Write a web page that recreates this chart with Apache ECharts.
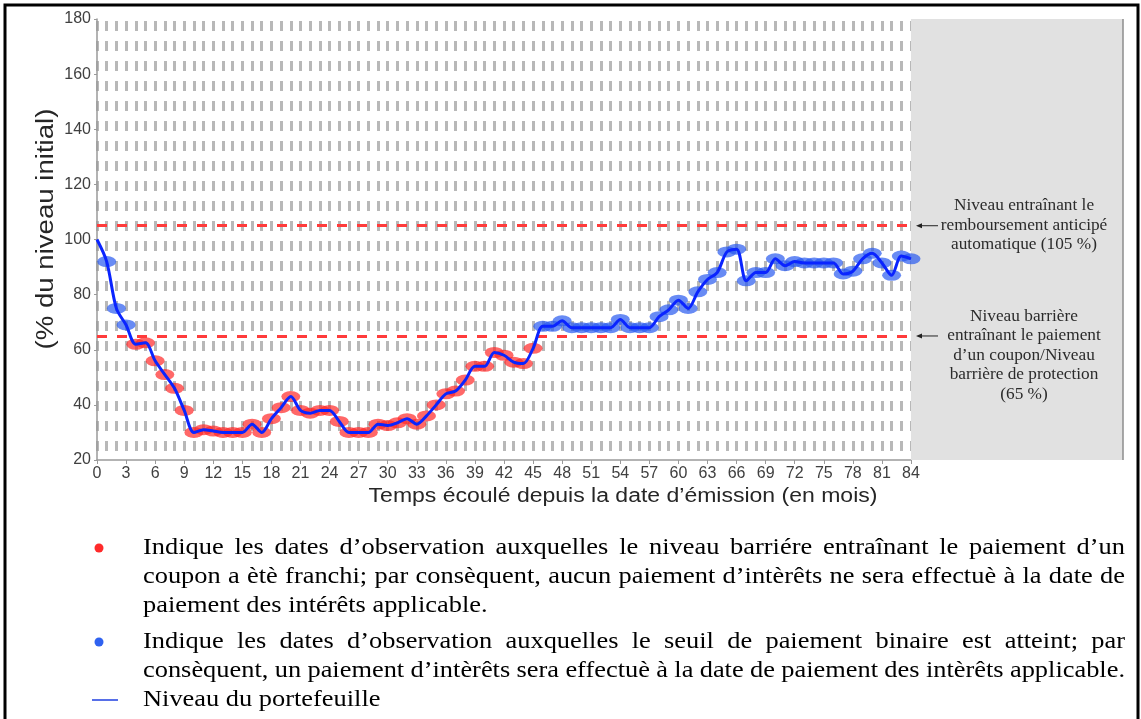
<!DOCTYPE html>
<html>
<head>
<meta charset="utf-8">
<script src="https://cdn.jsdelivr.net/npm/echarts@6/dist/echarts.min.js"></script>
<style>
    html, body { margin: 0; padding: 0; background: #fff; }
    #chart { width: 1141px; height: 719px; }
</style>
</head>
<body>
<div id="chart"></div>
<script>
(function () {

    /* ===== données ===== */
    var months = [];
    for (var m = 0; m <= 84; m++) { months.push(String(m)); }

    // niveau du portefeuille (% du niveau initial), un point par mois
    var level = [
        100, 92, 75, 69, 62, 62.5, 56, 51, 46, 38,
        30, 31, 30.5, 30, 30, 30, 33, 30, 35, 39,
        43, 38, 37, 38, 38, 34, 30, 30, 30, 33,
        32.5, 33.5, 35, 33, 36, 40, 44, 45, 49, 54,
        54, 59, 58, 55.5, 55, 60.5, 68.5, 68.5, 70.5, 68,
        68, 68, 68, 68, 71, 68, 68, 68, 72, 74.5,
        78, 75, 81, 85.5, 88, 95.5, 96.5, 85, 88, 88,
        93, 90.5, 92, 91.5, 91.5, 91.5, 91.5, 87.5, 88.5, 93,
        95, 91.5, 87, 94, 93
    ];

    var autocallLevel = 105;
    var barrierLevel = 65;
    var yMin = 20, yMax = 180, yStep = 20;

    var noteAutocall = ['Niveau entraînant le', 'remboursement anticipé', 'automatique (105 %)'];
    var noteBarrier = ['Niveau barrière', 'entraînant le paiement', 'd\u2019un coupon/Niveau', 'barrière de protection', '(65 %)'];

    var legendRed = [
        'Indique les dates d\u2019observation auxquelles le niveau barriére entraînant le paiement d\u2019un',
        'coupon a ètè franchi; par consèquent, aucun paiement d\u2019intèrêts ne sera effectuè à la date de',
        'paiement des intérêts applicable.'
    ];
    var legendBlue = [
        'Indique les dates d\u2019observation auxquelles le seuil de paiement binaire est atteint; par',
        'consèquent, un paiement d\u2019intèrêts sera effectuè à la date de paiement des intèrêts applicable.'
    ];
    var legendLine = 'Niveau du portefeuille';

    // points d'observation (à partir du mois 1), rouges sous la barrière, bleus au-dessus
    var redPts = level.map(function (v, i) { return (i > 0 && v < barrierLevel) ? v : '-'; });
    var bluePts = level.map(function (v, i) { return (i > 0 && v >= barrierLevel) ? v : '-'; });

    var myChart = echarts.init(document.getElementById('chart'));

    var option = {
        animation: false,
        grid: { left: 97, top: 19, right: 230, bottom: 259 },
        xAxis: {
            type: 'category',
            data: months,
            boundaryGap: false,
            axisLine: { lineStyle: { color: '#9a9a9a', width: 1.5 } },
            axisTick: { show: true, interval: 2, length: 4, lineStyle: { color: '#9a9a9a' } },
            axisLabel: { interval: 2, fontSize: 16, color: '#404040', margin: 6, fontFamily: 'Liberation Sans' },
            splitLine: {
                show: true,
                interval: 0,
                lineStyle: { color: '#b8b8b8', width: 3, type: [10, 10], dashOffset: -2 }
            }
        },
        yAxis: {
            type: 'value',
            min: yMin,
            max: yMax,
            interval: yStep,
            axisLine: { show: true, lineStyle: { color: '#9a9a9a', width: 1.5 } },
            axisTick: { show: true, length: 3, lineStyle: { color: '#9a9a9a' } },
            axisLabel: { fontSize: 16, color: '#404040', margin: 6, fontFamily: 'Liberation Sans' },
            splitLine: { show: false }
        },
        series: [
            {
                name: 'seuils',
                type: 'line',
                data: [],
                z: 2,
                markLine: {
                    silent: true,
                    symbol: 'none',
                    label: { show: false },
                    lineStyle: { color: '#ff3b3b', width: 3, type: [10, 10] },
                    data: [{ yAxis: autocallLevel }, { yAxis: barrierLevel }]
                }
            },
            {
                name: 'franchi',
                type: 'scatter',
                data: redPts,
                symbol: 'circle',
                symbolSize: [19, 11],
                itemStyle: { color: 'rgba(255,40,40,0.88)' },
                z: 3
            },
            {
                name: 'atteint',
                type: 'scatter',
                data: bluePts,
                symbol: 'circle',
                symbolSize: [19, 11],
                itemStyle: { color: 'rgba(40,90,240,0.88)' },
                z: 3
            },
            {
                name: legendLine,
                type: 'line',
                data: level,
                smooth: 0.3,
                showSymbol: false,
                lineStyle: { color: '#0a24ff', width: 3 },
                z: 5
            }
        ]
    };

    myChart.setOption(option);

    /* ===== éléments graphiques (zone grise, annotations, légende) ===== */
    var xEnd = myChart.convertToPixel({ xAxisIndex: 0 }, '84');
    var yTop = myChart.convertToPixel({ yAxisIndex: 0 }, yMax);
    var yBot = myChart.convertToPixel({ yAxisIndex: 0 }, yMin);
    var yAuto = myChart.convertToPixel({ yAxisIndex: 0 }, autocallLevel);
    var yBarr = myChart.convertToPixel({ yAxisIndex: 0 }, barrierLevel);
    var boxRight = 1123;
    var noteX = 1024;
    var lh = 19.5;

    var g = [];

    g.push({ type: 'rect', z: 1, shape: { x: xEnd, y: yTop, width: boxRight - xEnd, height: yBot - yTop },
        style: { fill: '#e1e1e1' } });
    g.push({ type: 'line', z: 1, shape: { x1: boxRight, y1: yTop, x2: boxRight, y2: yBot },
        style: { stroke: '#8c8c8c', lineWidth: 1.5 } });

    function arrow(y) {
        g.push({ type: 'line', z: 10, shape: { x1: 920, y1: y, x2: 938, y2: y }, style: { stroke: '#222', lineWidth: 1 } });
        g.push({ type: 'polygon', z: 10, shape: { points: [[916, y], [922, y - 2.5], [922, y + 2.5]] }, style: { fill: '#222' } });
    }
    arrow(yAuto);
    arrow(yBarr);

    function note(lines, y) {
        g.push({ type: 'text', z: 10, x: noteX, y: y - 1.5 * lh, scaleX: 1.08,
            style: { text: lines.join('\n'), fontFamily: 'Liberation Serif', fontSize: 16, lineHeight: lh,
                fill: '#2b2b2b', align: 'center', verticalAlign: 'top' } });
    }
    note(noteAutocall, yAuto);
    note(noteBarrier, yBarr);

    // titres des axes
    g.push({ type: 'text', z: 10, x: 47, y: 229, rotation: Math.PI / 2, scaleX: 1.2,
        style: { text: '(% du niveau initial)', fontFamily: 'Liberation Sans', fontSize: 23, fill: '#262626',
            align: 'center', verticalAlign: 'middle' } });
    g.push({ type: 'text', z: 10, x: 623, y: 496, scaleX: 1.15,
        style: { text: 'Temps écoulé depuis la date d\u2019émission (en mois)', fontFamily: 'Liberation Sans', fontSize: 20,
            fill: '#262626', align: 'center', verticalAlign: 'middle' } });

    // cadre
    g.push({ type: 'rect', z: 0, shape: { x: 5, y: 5, width: 1133, height: 730 },
        style: { fill: 'none', stroke: '#000', lineWidth: 3 } });

    // légende : texte justifié
    var fontSize = 24;
    var stretch = 1.1;
    var ctx = document.createElement('canvas').getContext('2d');
    ctx.font = fontSize + 'px "Liberation Serif"';
    var textLeft = 143, textRight = 1125;

    function textLine(txt, y, justify) {
        var words = txt.split(' ');
        var widths = words.map(function (w) { return ctx.measureText(w).width * stretch; });
        var total = widths.reduce(function (a, b) { return a + b; }, 0);
        var gap = justify ? (textRight - textLeft - total) / (words.length - 1) : ctx.measureText(' ').width * stretch;
        var x = textLeft;
        for (var i = 0; i < words.length; i++) {
            g.push({ type: 'text', z: 10, x: x, y: y, scaleX: stretch,
                style: { text: words[i], fontFamily: 'Liberation Serif', fontSize: fontSize, fill: '#000',
                    align: 'left', verticalAlign: 'middle' } });
            x += widths[i] + gap;
        }
    }

    var rowH = 29;
    legendRed.forEach(function (t, i) { textLine(t, 548 + i * rowH, i < legendRed.length - 1); });
    legendBlue.forEach(function (t, i) { textLine(t, 642 + i * rowH, true); });
    textLine(legendLine, 700, false);

    g.push({ type: 'circle', z: 10, shape: { cx: 99, cy: 548, r: 4.5 }, style: { fill: '#ff2a2a' } });
    g.push({ type: 'circle', z: 10, shape: { cx: 99, cy: 642, r: 4.5 }, style: { fill: '#2f62f0' } });
    g.push({ type: 'line', z: 10, shape: { x1: 92, y1: 700, x2: 118, y2: 700 }, style: { stroke: '#1f3fe0', lineWidth: 1.5 } });

    myChart.setOption({ graphic: g });
}());
</script>
</body>
</html>
